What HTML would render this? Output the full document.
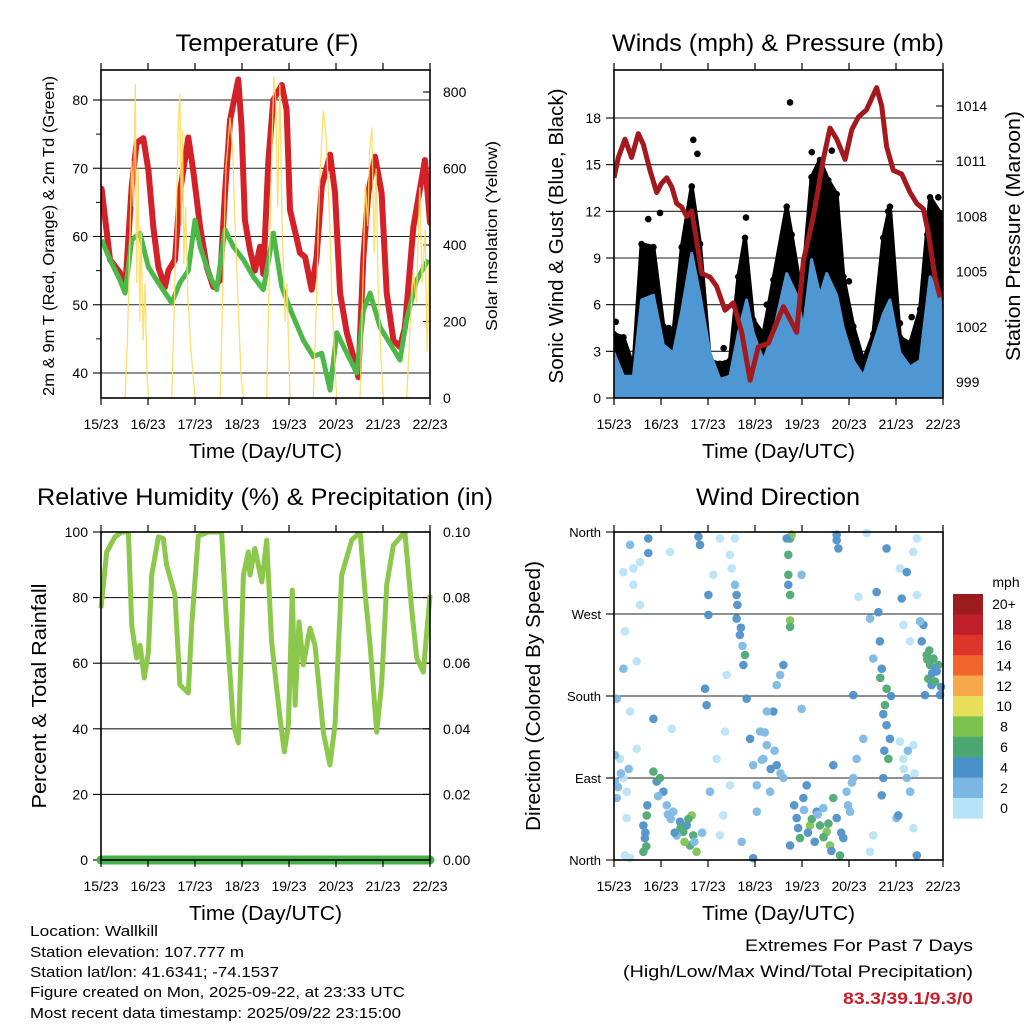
<!DOCTYPE html>
<html><head><meta charset="utf-8"><style>
html,body{margin:0;padding:0;background:#fff;width:1024px;height:1024px;overflow:hidden}
svg text{font-family:"Liberation Sans",Arial,sans-serif;fill:#000}
</style></head><body>
<svg id="fig" width="1024" height="1024" viewBox="0 0 1024 1024" xmlns="http://www.w3.org/2000/svg">
<rect width="1024" height="1024" fill="#fff"/>
<g id="p1"></g>
<g id="p2"></g>
<g id="p3"></g>
<g id="p4"></g>
<g id="info">
<text x="30" y="936" font-size="15" textLength="128" lengthAdjust="spacingAndGlyphs">Location: Wallkill</text>
<text x="30" y="957" font-size="15" textLength="214" lengthAdjust="spacingAndGlyphs">Station elevation: 107.777 m</text>
<text x="30" y="977" font-size="15" textLength="249" lengthAdjust="spacingAndGlyphs">Station lat/lon: 41.6341; -74.1537</text>
<text x="30" y="997" font-size="15" textLength="375" lengthAdjust="spacingAndGlyphs">Figure created on Mon, 2025-09-22, at 23:33 UTC</text>
<text x="30" y="1018" font-size="15" textLength="371" lengthAdjust="spacingAndGlyphs">Most recent data timestamp: 2025/09/22 23:15:00</text>
<text x="745" y="951" font-size="17" textLength="228" lengthAdjust="spacingAndGlyphs">Extremes For Past 7 Days</text>
<text x="623" y="977" font-size="17" textLength="350" lengthAdjust="spacingAndGlyphs">(High/Low/Max Wind/Total Precipitation)</text>
<text x="843" y="1004" font-size="17" font-weight="bold" style="fill:#c8202a" textLength="130" lengthAdjust="spacingAndGlyphs">83.3/39.1/9.3/0</text>
</g>
</svg>
<script>
// ---------- DATA ----------
const dayTicks = ["15/23","16/23","17/23","18/23","19/23","20/23","21/23","22/23"];
const tempTicks = [40,50,60,70,80];
const solarTicks = [0,200,400,600,800];
const windTicks = [0,3,6,9,12,15,18];
const presTicks = [999,1002,1005,1008,1011,1014];
const rhTicks = [0,20,40,60,80,100];
const rainTicks = ["0.00","0.02","0.04","0.06","0.08","0.10"];
const dirTicks = ["North","East","South","West","North"];

const tempHours = [0.3,4.6,9.7,12.3,15.7,18.2,21.6,24.2,26.7,29.3,32.7,34.4,37.8,40.3,44.6,47.1,50.6,54,57.4,60.8,63.3,65.9,70.1,71.8,73.5,76.1,78.6,81.2,82.9,85.5,88,92.3,94.8,96.5,99.1,101.6,104.2,107.6,110.1,112.7,117,119.5,122.1,125.5,128.9,131.4,134,136.5,139.9,143.3,145.9,149.3,152.7,155.2,159.5,165.4,168];
const tempRed = [67,56.6,54.7,52.2,67.3,73.7,74.4,69.7,61.4,55.5,52.6,55,56.6,66.4,74.5,69.7,61.4,55.5,52.6,53.6,66.4,77.1,83,76,62.4,58,55,58.5,54.5,71.2,80,82.2,78.6,63.9,60.7,57.6,57,52.2,57,67.3,72,66.4,51.7,45.9,42.4,39.4,57,66.4,71.7,66.4,51.7,44.8,43.8,46.7,61.4,71.2,62];
const dewHours = [0.3,4.6,9.7,12.3,15.7,19.9,24.2,29.3,36.1,40.3,44.6,48,50.6,55.7,59.1,63.3,67.6,72.7,77.8,82.9,88,92.3,97.4,103.3,108.4,112.7,117,120.4,125.5,130.6,134,137.4,142.5,147.6,152.7,156.1,161.2,167.1];
const tempDew = [59.5,56.6,53.6,51.7,59.5,60.5,55.5,53.2,50.3,53.2,55,62.4,58.5,54.1,52.2,61,58.5,56.6,54.1,52.2,60.5,52.6,48.8,44.8,42.4,42.9,37.5,45.9,42.9,40,49.2,51.7,46.7,44.3,41.9,47.9,53.6,56.6];
const solarHours = [0,12.3,13.5,14.7,15.7,16.5,17.5,18.2,19,19.8,20.5,21.5,22.5,23.5,24.3,36.1,37.5,38.8,39.5,40.3,41,41.6,42.3,43.2,44.5,46,48,60.8,62.3,63.8,65.9,67.2,68.5,70,71.5,72.7,84.6,86,87.2,88.3,89.2,90.3,91.3,92.5,94,95,96.5,108.4,110,111.5,113.5,115,116.5,118,120.3,132.3,133.5,135,136.2,137.2,138.3,139.5,140.5,141.5,143,144.2,156.1,158,159.5,161,162.8,164,165.5,166.5,167.5,168];
const solarValues = [0,0,150,400,620,500,820,300,600,200,450,150,300,60,0,0,250,550,720,796,450,700,350,500,250,120,0,0,300,600,733,650,450,250,60,0,0,350,650,840,780,500,820,450,200,300,0,0,250,550,752,680,500,250,0,0,250,560,450,650,707,380,600,300,100,0,0,200,330,250,551,300,440,120,350,0];

const windHours = [0,4.8,9.9,14.1,20.1,25.2,30.3,34.6,39.7,43.9,49,54.1,59.2,63.5,67.7,71.1,76.3,81.4,88.2,93.3,96.7,100.9,105.2,108.6,113.7,117.1,122.2,127.3,132.4,137.5,140.9,146,151.2,156.3,161.4,166.5,168];
const windMean = [2.9,1.4,1.4,6.3,6.6,3.4,2.9,5.6,9.3,6.6,2.9,1.2,1.4,4.2,6.3,4.2,2.4,4.2,8,6.6,4.5,8.9,6.6,8,6.6,4.5,2.4,1.4,3.4,5.4,6.3,2.9,2,2.4,7.8,6.6,3];
const gustHours = [0,4.8,9.9,14.1,20.1,25.2,30.3,34.6,39.7,43.9,49,54.1,59.2,63.5,66.9,71.1,76.3,81.4,88.2,90.7,95.8,100.9,105.2,109.4,113.7,117.1,122.2,127.3,132.4,137.5,140.9,146,151.2,156.3,161.4,166.5,168];
const windGust = [4.1,3.9,2,9.9,9.7,4.6,4.1,9.7,13.6,9.9,2.4,2.2,2.4,7.8,10.3,5,4.1,7.6,12.3,10.5,6.6,14.2,15.3,14,13.1,7.8,4.6,2.4,4.1,10.3,12.3,3.9,3.5,5.7,12.9,11.9,7];
const gustOutHours = [89.9,40.5,42.6,101,111.2,67.4,23.5,17.5,140,165.6,0.9,28,56,78,84,120,146,152,160];
const gustOutValues = [19,16.6,15.7,15.8,15.9,11.6,11.9,11.5,12,12.9,4.9,4.5,3.2,6,8.2,7.5,4.8,5.2,10.5];
const presHours = [0,2.2,5.6,9,12.4,15,18.4,21.8,24.3,26.9,29.5,32,34.6,37.1,39.7,42.2,44.8,49,52.4,56.7,60.9,65.2,69.5,73.7,78.8,82.2,86.5,89.9,93.3,96.7,101.8,106.9,110.3,113.7,118,121.4,124.8,129,134.1,136.7,139.2,142.6,146.9,151.2,154.6,158,160.5,163.9,166.5];
const presValues = [1010.1,1011.2,1012.2,1011.2,1012.5,1011.9,1010.5,1009.3,1009.8,1010.1,1009.6,1008.7,1008.5,1008,1008.3,1006.7,1004.9,1004.7,1004.2,1002.9,1003.3,1001.7,999.1,1000.9,1001.1,1002,1003.1,1002.4,1001.7,1005.6,1008,1011.1,1012.8,1012.2,1011.1,1012.7,1013.4,1013.8,1015,1014,1011.8,1010.5,1010.3,1009.3,1008.7,1008.4,1007.1,1004.7,1003.6];

const rhHours = [0,2.9,7.1,10.6,14,15.7,18.2,19.9,22.1,24.2,25.9,29.3,31.8,33.5,37.8,40.3,44.6,46.3,49.7,54.8,61.6,64.2,67.6,70.1,72.7,75.2,76.1,78.6,82.1,84.6,87.1,91.4,93.6,95.7,97.7,99.1,101.1,103.3,106.7,109.3,113.5,116.9,119.5,122.9,128,132.3,134.8,137.4,140.8,143.3,145.9,149.3,155.2,158.6,161.2,164.6,168];
const rhValues = [76.8,93.9,98.5,100,100,71.6,61.6,65.5,55.5,63.4,86.9,98.5,98,89.9,80.8,53.4,50.9,71.6,98.8,100,100,71.6,41.2,35.7,86.9,93.9,86.9,95,84.8,97.5,66.5,43.2,33,41.2,82.3,47.2,72.6,59.5,70.7,65.5,39,29,41.2,86.9,97.5,100,81.7,65.5,39,53.4,83.8,96,100,76.8,61.6,57.3,80.8];
const rainHours = [0,168];
const rainValues = [0,0];

const dirHour = [0.5,1.4,4.8,3,0.5,5.6,8.2,6.5,4.8,9.9,8.2,13.3,5.6,11.6,8.2,4.8,9.9,13.3,11.6,1.4,
15,15.8,16.7,15,17.5,17.5,20.1,21.8,20.1,23.5,25.2,28.6,29.5,
26.9,30.3,33.7,37.1,39.7,40.5,42.2,38.8,35.4,32,43.1,43.9,48.2,46.5,47.3,48.2,49,50.7,52.4,54.1,55.8,57.5,56.7,59.2,54.1,
62.6,64.3,66.1,67.7,66.9,61.8,62.6,69.5,71.1,72.9,71.1,65.2,60.1,59.2,61.8,
74.6,78,81.4,76.3,79.7,83.1,86.5,78,72.9,83.1,86.5,84.8,
89.9,90.7,89,89,89.9,89.9,89.9,89,88.2,
93.3,95,96.7,100.1,103.5,105.2,108.6,110.3,112,113.7,115.4,117.1,98.4,89.9,106.9,118.8,120.5,122.2,95.8,95.8,113.7,114.6,113.7,112,
124.8,122.2,123.9,129,127.3,132.4,130.7,
134.1,135,135.8,136.7,138.4,139.2,140.9,140.1,139.2,137.5,136.7,132.4,130.7,139.2,
146,147.8,149.5,151.2,152.9,147.8,151.2,146,149.5,152.9,154.6,154.6,144.3,152.9,154.6,146.9,145.2,
159.7,161.4,163.1,164.8,160.5,162.2,166.5,158,157.1,158.8,165.6,163.9,156.3,
2,3.5,6.5,7.5,16,16.5,17,22.5,27.5,29,31,34,36,38,41,45,63,64.8,65.6,75.5,77,80,82,85,92,94,97,99,101,102.5,104,107,109.5,111,116,119.5,121.5,136,137.5,138,141.5,148,150,153.5,160,161,162.5,164,167];
const dirDeg = [86,68,90,111,115,5,2,46,316,320,346,327,251,218,163,210,302,280,122,177,
38,24,49,9,353,337,97,86,155,90,75,338,144,
60,53,42,38,49,27,9,16,31,27,355,346,291,188,170,269,75,313,111,27,49,203,141,82,353,
265,247,214,177,225,302,291,133,104,82,2,20,320,335,353,
141,126,163,111,75,104,90,163,53,192,214,203,
353,357,335,313,291,263,256,302,353,
46,24,68,38,53,38,31,16,68,46,5,24,82,16,57,75,53,90,166,313,357,342,351,104,
289,181,111,359,133,27,9,
294,272,240,210,170,148,133,111,188,90,71,221,265,342,
130,111,90,75,126,258,240,320,316,338,353,291,46,35,5,287,49,
225,214,221,207,199,192,181,258,240,181,214,196,262,
80,95,75,100,30,15,60,70,50,45,30,35,20,45,20,30,280,255,235,110,140,100,120,95,60,35,55,30,45,20,50,25,40,10,30,60,85,200,160,120,180,100,120,95,220,230,205,210,190];
const dirSpd = [2,2,0,0,2,0,0,0,0,0,2,0,0,0,0,2,0,0,0,2,
4,4,6,6,4,4,6,4,4,6,4,0,0,
2,2,4,4,8,6,8,6,6,2,4,4,4,4,4,4,2,0,0,0,0,0,0,0,0,
4,4,4,4,6,2,4,4,2,2,4,2,0,0,0,
2,2,4,2,2,4,2,2,2,2,4,2,
6,8,6,6,6,8,6,4,4,
4,6,4,8,4,6,8,8,6,4,6,4,4,4,2,2,2,2,2,2,4,4,4,4,
0,4,2,0,2,0,0,
4,4,4,4,6,4,4,6,6,4,4,2,2,4,
0,0,2,2,0,0,0,0,4,0,0,0,2,0,4,4,4,
6,6,6,4,6,4,4,4,4,4,6,6,2,
2,2,0,2,4,6,4,2,2,2,4,6,8,6,2,2,4,4,2,2,2,4,2,2,4,4,2,4,6,4,2,6,6,4,4,2,2,6,4,4,4,0,2,0,6,6,4,4,4];
const cbLabels = ["20+","18","16","14","12","10","8","6","4","2","0"];
const cbColors = ["#9b1b1f","#c01f2a","#de352b","#f1652c","#f6a84a","#e7df5a","#7cc24e","#49a76f","#4a8fc8","#7ab7e3","#b7e3f8"];

// ---------- HELPERS ----------
const NS="http://www.w3.org/2000/svg";
function mk(parent,tag,attrs){const e=document.createElementNS(NS,tag);for(const k in attrs)e.setAttribute(k,attrs[k]);parent.appendChild(e);return e;}
function lin(d0,d1,r0,r1){return v=>r0+(v-d0)*(r1-r0)/(d1-d0);}
function txt(parent,x,y,s,size,anchor,extra){const t=mk(parent,'text',Object.assign({x:x,y:y,'font-size':size,'text-anchor':anchor||'start'},extra||{}));t.textContent=s;return t;}

function frame(g,L,T,R,B,xs){
  const p=mk(g,'rect',{x:L,y:T,width:R-L,height:B-T,fill:'none',stroke:'#000','stroke-width':1.6});
  
  
  dayTicks.forEach((d,i)=>{
    const x=xs(i*24);
    const tb=mk(g,'line',{x1:x,y1:B,x2:x,y2:B+7,stroke:'#000','stroke-width':1.2});
    
    
    mk(g,'line',{x1:x,y1:T,x2:x,y2:T-7,stroke:'#000','stroke-width':1.2});
    const t=txt(g,x,B+31,d,14,'middle');
    
    
  });
  const xt=txt(g,(L+R)/2,B+60,'Time (Day/UTC)',20,'middle',{textLength:153,lengthAdjust:'spacingAndGlyphs'});
  
  
}
function hgrid(g,L,R,y){mk(g,'line',{x1:L,y1:y,x2:R,y2:y,stroke:'#222','stroke-width':1.1});}
function leftTick(g,L,y,label,size){
  mk(g,'line',{x1:L,y1:y,x2:L-8,y2:y,stroke:'#000','stroke-width':1.1});
  const t=txt(g,L-13,y+5,label,size||14,'end');
  
  
}
function rightTick(g,R,y,label){
  mk(g,'line',{x1:R,y1:y,x2:R-7,y2:y,stroke:'#000','stroke-width':1.1});
  const t=txt(g,R+13,y+5,label,14,'start');
  
  
}
function vtitle(g,x,y,s,size,len,name){
  const t=txt(g,x,y,s,size,'middle',{transform:`rotate(-90 ${x} ${y})`,textLength:len,lengthAdjust:'spacingAndGlyphs'});
  
  
}
function title(g,x,y,s,len,name){
  const t=txt(g,x,y,s,24,'middle',{textLength:len,lengthAdjust:'spacingAndGlyphs'});
  
  
}
function pathFrom(xa,ya,xs,ys){return xa.map((h,i)=>(i?'L':'M')+xs(h).toFixed(1)+' '+ys(ya[i]).toFixed(1)).join(' ');}

// ---------- PANEL 1: Temperature ----------
(function(){
  const g=document.getElementById('p1');
  const L=101,R=430,T=70,B=398;
  const xs=lin(0,168,L,R), ys=lin(40,80,373,100), ysol=lin(0,800,398,92);
  tempTicks.forEach(v=>{hgrid(g,L,R,ys(v));leftTick(g,L,ys(v),String(v));});
  for(let v=35;v<=85;v+=5){if(v%10){const y=ys(v);if(y>T&&y<B)mk(g,'line',{x1:L,y1:y,x2:L-5,y2:y,stroke:'#000'});}}
  solarTicks.forEach(v=>rightTick(g,R,ysol(v),String(v)));
  const clip=mk(g,'clipPath',{id:'c1'});mk(clip,'rect',{x:L,y:T,width:R-L,height:B-T});
  const dg=mk(g,'g',{'clip-path':'url(#c1)'});
  const red=mk(dg,'path',{d:pathFrom(tempHours,tempRed,xs,ys),fill:'none',stroke:'#d42027','stroke-width':6,'stroke-linejoin':'round','stroke-linecap':'round'});
  
  
  const grn=mk(dg,'path',{d:pathFrom(dewHours,tempDew,xs,ys),fill:'none',stroke:'#4cb848','stroke-width':5,'stroke-linejoin':'round'});
  
  
  const sol=mk(dg,'path',{d:pathFrom(solarHours,solarValues,xs,ysol),fill:'none',stroke:'#fddc5c','stroke-width':1.3,opacity:0.9});
  
  
  frame(g,L,T,R,B,xs);
  title(g,267,51,'Temperature (F)',183,'temperature-title');
  vtitle(g,54,236,'2m & 9m T (Red, Orange) & 2m Td (Green)',16,320,'temperature-y-axis-title');
  vtitle(g,497,236,'Solar Insolation (Yellow)',16,190,'solar-y-axis-title');
})();

// ---------- PANEL 2: Winds & Pressure ----------
(function(){
  const g=document.getElementById('p2');
  const L=614,R=943,T=70,B=398;
  const xs=lin(0,168,L,R), ys=lin(0,18,398,118), yp=lin(999,1014,382,106);
  windTicks.forEach(v=>{if(v>0)hgrid(g,L,R,ys(v));leftTick(g,L,ys(v),String(v));});
  presTicks.forEach(v=>rightTick(g,R,yp(v),String(v)));
  const clip=mk(g,'clipPath',{id:'c2'});mk(clip,'rect',{x:L,y:T,width:R-L,height:B-T});
  const dg=mk(g,'g',{'clip-path':'url(#c2)'});
  const gp=pathFrom(gustHours,windGust,xs,ys)+` L${xs(168)} ${ys(0)} L${xs(0)} ${ys(0)} Z`;
  const ga=mk(dg,'path',{d:gp,fill:'#000',stroke:'#000','stroke-width':4,'stroke-linejoin':'round'});
  
  
  gustHours.forEach((h,i)=>{mk(dg,'circle',{cx:xs(h),cy:ys(windGust[i]),r:3.3,fill:'#000'});});
  gustOutHours.forEach((h,i)=>{
    const c=mk(dg,'circle',{cx:xs(h),cy:ys(gustOutValues[i]),r:3.3,fill:'#000'});
    
    
  });
  const bp=pathFrom(windHours,windMean,xs,ys)+` L${xs(168)} ${ys(0)} L${xs(0)} ${ys(0)} Z`;
  const ba=mk(dg,'path',{d:bp,fill:'#4f97d2',stroke:'#4f97d2','stroke-width':3,'stroke-linejoin':'round'});
  
  
  const pl=mk(dg,'path',{d:pathFrom(presHours,presValues,xs,yp),fill:'none',stroke:'#a3191d','stroke-width':5,'stroke-linejoin':'round'});
  
  
  frame(g,L,T,R,B,xs);
  title(g,778,51,'Winds (mph) & Pressure (mb)',332,'winds-title');
  vtitle(g,563,236,'Sonic Wind & Gust (Blue, Black)',20,295,'wind-y-axis-title');
  vtitle(g,1020,236,'Station Pressure (Maroon)',20,250,'pressure-y-axis-title');
})();

// ---------- PANEL 3: RH & Precip ----------
(function(){
  const g=document.getElementById('p3');
  const L=101,R=430,T=532,B=860;
  const xs=lin(0,168,L,R), ys=lin(0,100,860,532), yr=lin(0,0.1,860,532);
  rhTicks.forEach(v=>{if(v>0&&v<100)hgrid(g,L,R,ys(v));leftTick(g,L,ys(v),String(v));});
  rainTicks.forEach(s=>rightTick(g,R,yr(parseFloat(s)),s));
  const clip=mk(g,'clipPath',{id:'c3'});mk(clip,'rect',{x:L-6,y:T,width:R-L+12,height:B-T+6});
  const dg=mk(g,'g',{'clip-path':'url(#c3)'});
  const rh=mk(dg,'path',{d:pathFrom(rhHours,rhValues,xs,ys),fill:'none',stroke:'#8cc84b','stroke-width':5,'stroke-linejoin':'round'});
  
  
  const rn=mk(dg,'path',{d:pathFrom(rainHours,rainValues,xs,yr),fill:'none',stroke:'#45b048','stroke-width':9,'stroke-linecap':'round'});
  
  
  frame(g,L,T,R,B,xs);
  title(g,265,505,'Relative Humidity (%) & Precipitation (in)',456,'humidity-title');
  vtitle(g,46,696,'Percent & Total Rainfall',20,225,'humidity-y-axis-title');
})();

// ---------- PANEL 4: Wind Direction ----------
(function(){
  const g=document.getElementById('p4');
  const L=614,R=943,T=532,B=860;
  const xs=lin(0,168,L,R), ys=lin(0,360,860,532);
  dirTicks.forEach((s,i)=>{const y=ys(i*90);if(i>0&&i<4)hgrid(g,L,R,y);leftTick(g,L,y,s,13);});
  const clip=mk(g,'clipPath',{id:'c4'});mk(clip,'rect',{x:L,y:T-5,width:R-L+5,height:B-T+10});
  const dg=mk(g,'g',{'clip-path':'url(#c4)',opacity:0.92});
  dirHour.forEach((h,i)=>{
    const s=dirSpd[i];const idx=Math.max(0,10-Math.floor(s/2));
    const c=mk(dg,'circle',{cx:xs(h).toFixed(1),cy:ys(dirDeg[i]).toFixed(1),r:4.3,fill:cbColors[idx]});
    
    
  });
  frame(g,L,T,R,B,xs);
  title(g,778,505,'Wind Direction',164,'wind-direction-title');
  vtitle(g,540,696,'Direction (Colored By Speed)',20,270,'direction-y-axis-title');
  const cb=mk(g,'g',{});
  
  
  const top=594,h=20.4;
  cbColors.forEach((c,i)=>{
    const r=mk(cb,'rect',{x:953,y:top+i*h,width:30,height:h+0.3,fill:c});
    
    
    const t=txt(cb,1004,top+i*h+h/2+5,cbLabels[i],14,'middle');
    
    
  });
  const u=txt(cb,1006,587,'mph',14,'middle');
  
  
})();
</script>
</body></html>
